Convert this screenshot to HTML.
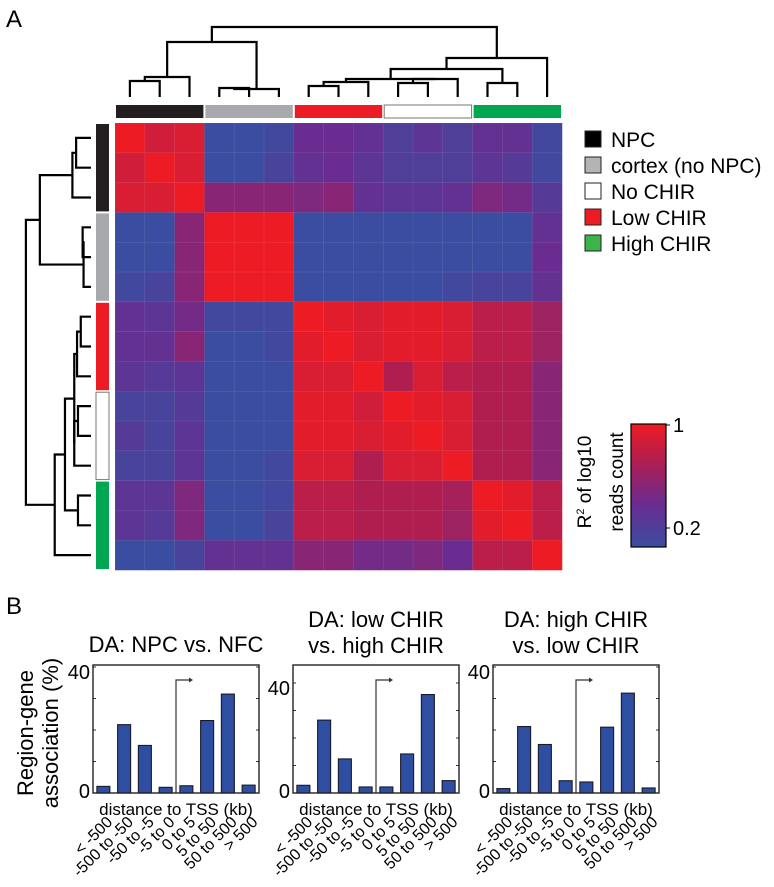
<!DOCTYPE html>
<html><head><meta charset="utf-8"><style>
html,body{margin:0;padding:0;background:#fff;}
svg{display:block;font-family:"Liberation Sans",Arial,sans-serif;}
</style></head><body>
<svg id="fig" width="774" height="887" viewBox="0 0 774 887" xmlns="http://www.w3.org/2000/svg">
<text x="6" y="27" font-size="24">A</text>
<text x="6" y="614" font-size="24">B</text>
<g id="heat"></g>
<g id="dendTop"></g>
<g id="dendLeft"></g>
<g id="groupBars"></g>
<g font-size="21">
 <g><rect x="585" y="131" width="16" height="16" fill="#000" stroke="#222"/><text x="611" y="147">NPC</text></g>
 <g><rect x="585" y="157" width="16" height="16" fill="#b4b4b4" stroke="#222"/><text x="611" y="173">cortex (no NPC)</text></g>
 <g><rect x="585" y="183" width="16" height="16" fill="#fff" stroke="#222"/><text x="611" y="199">No CHIR</text></g>
 <g><rect x="585" y="209" width="16" height="16" fill="#ed1c24" stroke="#222"/><text x="611" y="225">Low CHIR</text></g>
 <g><rect x="585" y="235" width="16" height="16" fill="#3cb44a" stroke="#222"/><text x="611" y="251">High CHIR</text></g>
</g>
<defs><linearGradient id="cb" x1="0" y1="1" x2="0" y2="0">
<stop offset="0" stop-color="#3a4da0"/><stop offset="0.35" stop-color="#6a2c90"/><stop offset="0.7" stop-color="#b01e50"/><stop offset="1" stop-color="#ed1c24"/></linearGradient></defs>
<g>
 <rect x="631" y="424" width="35" height="123" fill="url(#cb)" stroke="#000" stroke-width="1.2"/>
 <line x1="666" y1="425" x2="670" y2="425" stroke="#000"/><line x1="666" y1="528" x2="670" y2="528" stroke="#000"/>
 <text x="673" y="432" font-size="20">1</text>
 <text x="673" y="535" font-size="20">0.2</text>
 <text transform="translate(591,482) rotate(-90)" text-anchor="middle" font-size="19">R<tspan font-size="11" dy="-7">2</tspan><tspan dy="7"> of log10</tspan></text>
 <text transform="translate(623,482) rotate(-90)" text-anchor="middle" font-size="19">reads count</text>
</g>
<text transform="translate(33,733) rotate(-90)" text-anchor="middle" font-size="22">Region-gene</text>
<text transform="translate(58,733) rotate(-90)" text-anchor="middle" font-size="22">association (%)</text>
<g id="bars"></g>
</svg>
<script>
const NS="http://www.w3.org/2000/svg";
function mk(tag,attrs,parent){const e=document.createElementNS(NS,tag);for(const k in attrs)e.setAttribute(k,attrs[k]);parent.appendChild(e);return e;}

// ---- heatmap data ----
const heatValues=[
[1,.85,.9,0,0,.05,.35,.35,.3,.15,.25,.15,.3,.3,.05],
[.85,1,.9,0,0,.1,.3,.35,.25,.15,.15,.15,.25,.2,.05],
[.9,.9,1,.5,.5,.5,.45,.5,.3,.25,.25,.3,.45,.4,.2],
[0,0,.5,1,1,1,0,0,0,0,0,0,0,0,.3],
[0,0,.5,1,1,1,0,0,0,0,0,0,0,0,.35],
[.05,.1,.5,1,1,1,0,0,0,0,0,.05,.1,.1,.3],
[.3,.25,.4,.05,.05,.05,1,.95,.9,.95,.95,.9,.75,.75,.6],
[.3,.3,.5,0,0,.05,.95,1,.9,.95,.95,.9,.75,.75,.6],
[.25,.2,.25,0,0,0,.9,.9,1,.7,.9,.75,.7,.7,.5],
[.1,.1,.2,0,0,0,.95,.95,.85,1,.95,.9,.7,.7,.5],
[.2,.1,.25,0,0,0,.95,.95,.9,.95,1,.9,.7,.7,.5],
[.1,.1,.25,0,0,.05,.9,.9,.7,.9,.9,1,.7,.7,.5],
[.25,.25,.45,0,0,.05,.75,.75,.7,.7,.7,.65,1,.95,.75],
[.25,.2,.45,0,0,.1,.75,.75,.7,.7,.7,.6,.95,1,.75],
[0,0,.1,.3,.3,.3,.5,.5,.4,.4,.45,.35,.75,.75,1]];
const groupNames=["npc","cortex","low-chir","no-chir","high-chir"];
const groupColors=["#231f20","#a7a9ac","#ed1c24","#ffffff","#00a651"];
// dendrogram merges: [nodeA,nodeB,height]; leaves 0..14, new nodes 15+
const merges=[[0,1,16],[15,2,20],[3,4,9],[17,5,8],[16,18,55],[6,7,11],[20,8,15],[9,10,14],[22,11,18],[21,23,18],[12,13,14],[24,25,28],[26,14,39],[19,27,70]];

const HX=115,HY=123,CS=29.8,N=15;
const stops=[[0,[58,77,160]],[0.35,[106,44,144]],[0.7,[176,30,80]],[1,[237,28,36]]];
function col(v){for(let i=1;i<stops.length;i++){if(v<=stops[i][0]){const a=stops[i-1],b=stops[i],t=(v-a[0])/(b[0]-a[0]);return "rgb("+a[1].map((c,j)=>Math.round(c+(b[1][j]-c)*t)).join(",")+")";}}return "rgb(237,28,36)";}
const heat=document.getElementById('heat');
heatValues.forEach((row,r)=>row.forEach((v,c)=>{
 const el=mk('rect',{x:HX+c*CS,y:HY+r*CS,width:CS+0.3,height:CS+0.3,fill:col(v),stroke:"rgba(255,255,255,0.12)","stroke-width":0.6},heat);
 
 
}));

// group bars
const gb=document.getElementById('groupBars');
groupColors.forEach((c,i)=>{
 const x0=HX+i*3*CS+1,w=3*CS-2;
 const t=mk('rect',{x:x0,y:105,width:w,height:13,fill:c,stroke:i==3?"#777":"none","stroke-width":1},gb);
 
 
 const l=mk('rect',{x:96,y:HY+i*3*CS+1,width:13,height:3*CS-2,fill:c,stroke:i==3?"#777":"none","stroke-width":1},gb);
 
 
});

// dendrograms
function dendro(g,horizontal,tip,scale){
 const pos=[],hh=[];
 for(let i=0;i<N;i++){pos.push((horizontal?HX:HY)+CS*(i+.5));hh.push(0);}
 merges.forEach(m=>{
  const [a,b,h]=m;const p=tip-h*scale;
  const pa=pos[a],pb=pos[b],qa=tip-hh[a]*scale,qb=tip-hh[b]*scale;
  const d=horizontal?`M${pa},${qa}V${p}H${pb}V${qb}`:`M${qa},${pa}H${p}V${pb}H${qb}`;
  const el=mk('path',{d:d,fill:"none",stroke:"#000","stroke-width":2.2},g);
  
  
  pos.push((pa+pb)/2);hh.push(h);
 });
}
dendro(document.getElementById('dendTop'),true,97,1);
dendro(document.getElementById('dendLeft'),false,91,0.93);

// ---- bar charts ----
const binLabels=["< -500","-500 to -50","-50 to -5","-5 to 0","0 to 5","5 to 50","50 to 500","> 500"];
const chartTitles=[["DA: NPC vs. NFC"],["DA: low CHIR","vs. high CHIR"],["DA: high CHIR","vs. low CHIR"]];
const seriesNPC=[2.1,21.7,15.1,1.8,2.3,23,31.4,2.5];
const seriesLowVsHigh=[2.8,26.5,12.4,2.2,2.2,14.2,35.8,4.5];
const seriesHighVsLow=[1.4,21.1,15.4,3.9,3.5,20.9,31.7,1.6];
const yTicks=[0,40];
const seriesAll=[seriesNPC,seriesLowVsHigh,seriesHighVsLow];
const boxes=[{x:93,w:166,top:665,y40:667},{x:293,w:166,top:665,y40:683},{x:493,w:166,top:665,y40:667}];
const BOT=793;
const bars=document.getElementById('bars');
seriesAll.forEach((vals,ci)=>{
 const b=boxes[ci];
 const g=mk('g',{},bars);
 
 
 const y=v=>BOT-v*(BOT-b.y40)/40;
 const slot=b.w/vals.length;
 const tl=chartTitles[ci];
 tl.forEach((t,k)=>{const e=mk('text',{x:b.x+b.w/2,y:(tl.length==1?652:627)+k*26,"text-anchor":"middle","font-size":22},g);e.textContent=t;
  
  });
 // minor ticks
 for(let v=10;v<=40;v+=10){const yy=y(v);if(yy<b.top+2)continue;
  mk('line',{x1:b.x,y1:yy,x2:b.x+3,y2:yy,stroke:"#333"},g);
  mk('line',{x1:b.x+b.w-3,y1:yy,x2:b.x+b.w,y2:yy,stroke:"#333"},g);}
 vals.forEach((v,i)=>{
  const cx=b.x+slot*(i+.5);
  const r=mk('rect',{x:cx-6.5,y:y(v),width:13,height:BOT-y(v),fill:"#2e4ea2",stroke:"#1a1a2a","stroke-width":1.1},g);
  
  
  const t=mk('text',{transform:`translate(${cx+10},${823}) rotate(-45)`,"text-anchor":"end","font-size":16},g);
  t.textContent=binLabels[i];
  
  
 });
 const ax=b.x+slot*4;
 const ar=mk('path',{d:`M${ax},${BOT}V680H${ax+15}`,fill:"none",stroke:"#333","stroke-width":1.2},g);
 
 
 mk('path',{d:`M${ax+17},680l-4,-2.5v5z`,fill:"#333"},g);
 const box=mk('rect',{x:b.x,y:b.top,width:b.w,height:BOT-b.top,fill:"none",stroke:"#222","stroke-width":1.4},g);
 
 
 yTicks.forEach(v=>{const t=mk('text',{x:b.x-3,y:y(v)+(v===0?5:12),"text-anchor":"end","font-size":20},g);t.textContent=v;
  
  });
 const xt=mk('text',{x:b.x+b.w/2,y:815,"text-anchor":"middle","font-size":17},g);
 xt.textContent="distance to TSS (kb)";
 
 
});
</script>
</body></html>
